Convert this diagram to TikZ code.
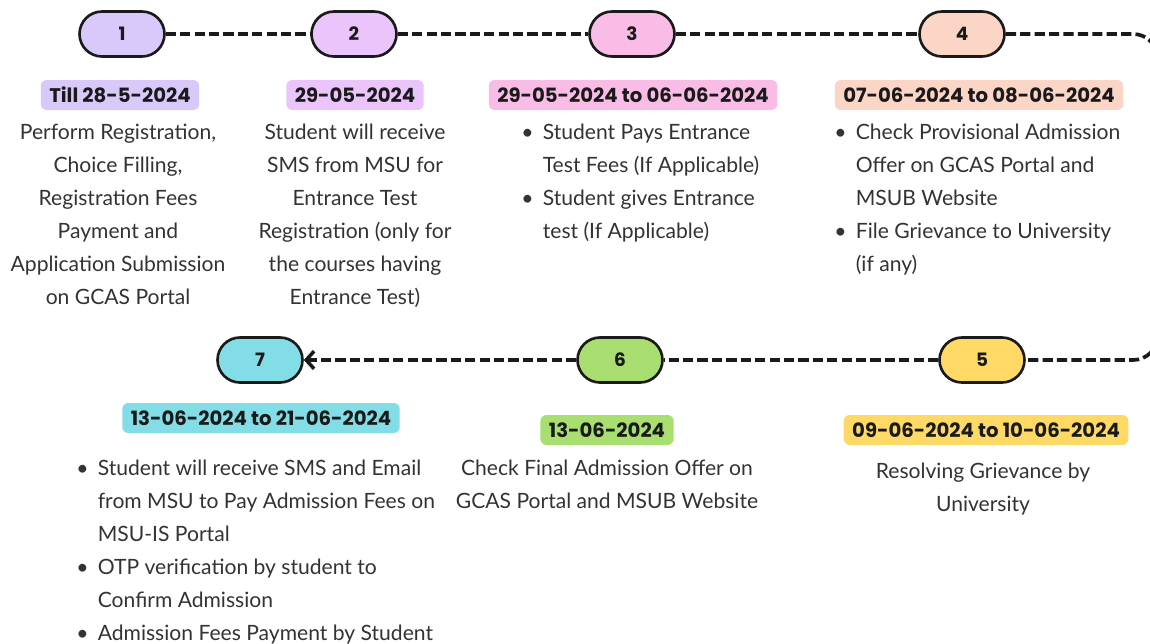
\documentclass[tikz,border=0pt]{standalone}
\usepackage{fontspec}
\setmainfont{Lato}
\newfontfamily\datefont{Poppins}
\usetikzlibrary{arrows.meta}

\definecolor{lavender}{HTML}{D9C9FB}
\definecolor{orchid}{HTML}{EAC4FB}
\definecolor{rose}{HTML}{F9BCE6}
\definecolor{peach}{HTML}{FBD5C5}
\definecolor{sun}{HTML}{FFD966}
\definecolor{lime}{HTML}{A9DF70}
\definecolor{aqua}{HTML}{82DDE7}
\definecolor{ink}{HTML}{1A1A1A}
\definecolor{bodytext}{HTML}{333333}

\newcommand{\bul}{\makebox[0.43cm][l]{\textbullet}}
\newcommand{\ind}{\hspace*{0.43cm}}

\tikzset{
  pill/.style={draw=ink, line width=1.5pt, rounded corners=0.45cm,
    minimum width=1.7cm, minimum height=0.9cm, text=ink,
    font=\datefont\bfseries\fontsize{10.5}{13}\selectfont},
  datebox/.style={rounded corners=0.12cm, inner xsep=0.17cm, inner ysep=0pt,
    minimum height=0.6cm, text=ink,
    font=\datefont\bfseries\fontsize{11.2}{13}\selectfont},
  body/.style={inner sep=0pt, anchor=north, align=center, text=bodytext,
    font=\fontsize{12}{18.7}\selectfont},
  link/.style={draw=ink, line width=2.1pt, dash pattern=on 5.8pt off 2.4pt},
}

\begin{document}
\begin{tikzpicture}[x=0.02cm,y=-0.02cm]
  \useasboundingbox (0,0) rectangle (1150,643);

  % step pills
  \foreach \n/\x/\y/\c in {1/122/34/lavender,2/354/34/orchid,3/632/34/rose,
      4/962/34/peach,5/982/360/sun,6/620/360/lime,7/260/360/aqua} {
    \node[pill,fill=\c] (p\n) at (\x,\y) {\n};
  }

  % connectors
  \coordinate (rtop) at (1158,34);
  \coordinate (rbot) at (1158,360);
  \draw[link] (p1) -- (p2);
  \draw[link] (p2) -- (p3);
  \draw[link] (p3) -- (p4);
  \draw[link,rounded corners=0.5cm] (p4.east) -- (rtop) -- (rbot) -- (p5.east);
  \draw[link] (p5) -- (p6);
  \draw[link,-{Straight Barb[length=4.5pt,width=10pt,line width=2pt]}] (p6) -- (p7);

  % dates
  \node[datebox,fill=lavender] (d1) at (120,95) {Till 28-5-2024};
  \node[datebox,fill=orchid] (d2) at (355,95) {29-05-2024};
  \node[datebox,fill=rose] (d3) at (633,95) {29-05-2024 to 06-06-2024};
  \node[datebox,fill=peach] (d4) at (979,95) {07-06-2024 to 08-06-2024};
  \node[datebox,fill=sun] (d5) at (986,430) {09-06-2024 to 10-06-2024};
  \node[datebox,fill=lime] (d6) at (607,430) {13-06-2024};
  \node[datebox,fill=aqua] (d7) at (261,418) {13-06-2024 to 21-06-2024};

  % descriptions
  \node[body] (t1) at (118,124) {Perform Registration,\\ Choice Filling,\\ Registration Fees\\
    Payment and\\ Application Submission\\ on GCAS Portal};
  \node[body] (t2) at (355,124) {Student will receive\\ SMS from MSU for\\ Entrance Test\\
    Registration (only for\\ the courses having\\ Entrance Test)};
  \node[body,anchor=north west,align=left] (t3) at (521,124) {\bul Student Pays Entrance\\
    \ind Test Fees (If Applicable)\\ \bul Student gives Entrance\\ \ind test (If Applicable)};
  \node[body,anchor=north west,align=left] (t4) at (834,124) {\bul Check Provisional Admission\\
    \ind Offer on GCAS Portal and\\ \ind MSUB Website\\ \bul File Grievance to University\\
    \ind (if any)};
  \node[body] (t5) at (983,463) {Resolving Grievance by\\ University};
  \node[body] (t6) at (607,460) {Check Final Admission Offer on\\ GCAS Portal and MSUB Website};
  \node[body,anchor=north west,align=left] (t7) at (76,460) {\bul Student will receive SMS and Email\\
    \ind from MSU to Pay Admission Fees on\\ \ind MSU-IS Portal\\ \bul OTP verification by student to\\
    \ind Confirm Admission\\ \bul Admission Fees Payment by Student};
\end{tikzpicture}
\end{document}
